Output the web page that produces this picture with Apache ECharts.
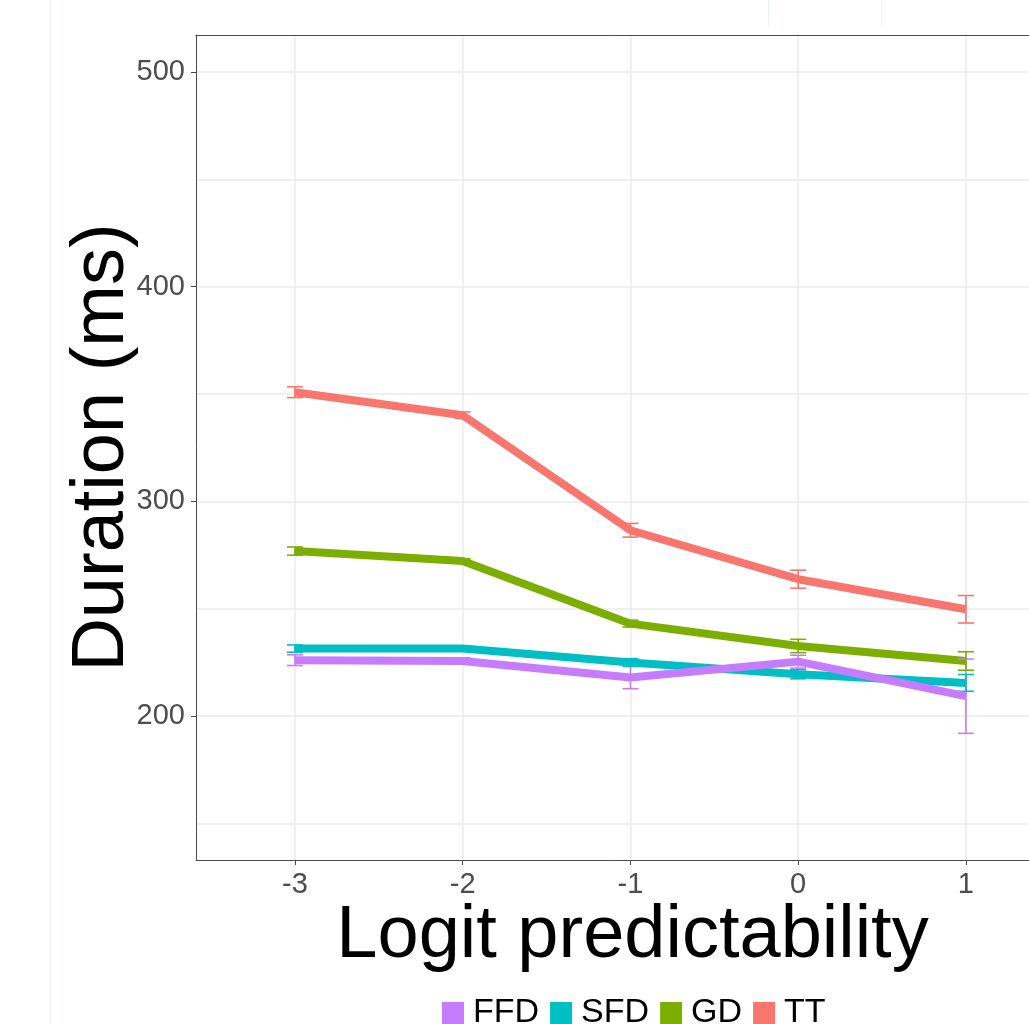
<!DOCTYPE html>
<html><head><meta charset="utf-8">
<script src="https://cdn.jsdelivr.net/npm/echarts@6/dist/echarts.min.js"></script>
<style>html,body{margin:0;padding:0;background:#fff}#c{width:1029px;height:1024px}</style>
</head><body><div id="c"></div>
<script>
const xValues = [-3, -2, -1, 0, 1];
const seriesNames = ['FFD', 'SFD', 'GD', 'TT'];
const FFD = [226.0, 225.6, 217.9, 225.3, 209.2];
const FFD_err = [2.5, 1.5, 5.2, 3.0, 17.3];
const SFD = [231.4, 231.4, 224.9, 219.4, 215.4];
const SFD_err = [1.7, 1.2, 1.8, 2.1, 3.9];
const GD = [276.8, 272.2, 243.0, 232.6, 225.6];
const GD_err = [1.9, 1.0, 1.6, 3.1, 4.3];
const TT = [350.8, 340.1, 286.5, 263.7, 249.7];
const TT_err = [2.5, 1.5, 3.2, 4.2, 6.4];
const yTickLabels = [200, 300, 400, 500];
const yGridValues = [150, 200, 250, 300, 350, 400, 450, 500];
const xTickLabels = [-3, -2, -1, 0, 1];

const colors = { FFD: '#C77CFF', SFD: '#00BFC4', GD: '#7CAE00', TT: '#F8766D' };
const values = { FFD, SFD, GD, TT };
const errs = { FFD: FFD_err, SFD: SFD_err, GD: GD_err, TT: TT_err };
const FONT = '"Liberation Sans", Arial, Helvetica, sans-serif';

const chart = echarts.init(document.getElementById('c'), null, { renderer: 'canvas' });

const series = [];
seriesNames.forEach((name, i) => {
  series.push({
    name, type: 'line',
    data: xValues.map((x, j) => [x, values[name][j]]),
    showSymbol: false, symbol: 'none',
    lineStyle: { color: colors[name], width: 8 },
    itemStyle: { color: colors[name] },
    z: name === 'FFD' ? 5 : 3,
    animation: false
  });
  series.push({
    name, type: 'custom',
    data: xValues.map((x, j) => [x, values[name][j] - errs[name][j], values[name][j] + errs[name][j]]),
    renderItem: function (params, api) {
      const lo = api.coord([api.value(0), api.value(1)]);
      const hi = api.coord([api.value(0), api.value(2)]);
      const hw = 8;
      const st = { stroke: colors[name], lineWidth: 1.6, fill: null };
      return {
        type: 'group',
        children: [
          { type: 'line', shape: { x1: lo[0], y1: lo[1], x2: hi[0], y2: hi[1] }, style: st },
          { type: 'line', shape: { x1: lo[0] - hw, y1: lo[1], x2: lo[0] + hw, y2: lo[1] }, style: st },
          { type: 'line', shape: { x1: hi[0] - hw, y1: hi[1], x2: hi[0] + hw, y2: hi[1] }, style: st }
        ]
      };
    },
    itemStyle: { color: colors[name] },
    z: 4,
    animation: false
  });
});

chart.setOption({
  backgroundColor: '#ffffff',
  animation: false,
  grid: { left: 196, top: 35, right: 0, bottom: 164, show: false },
  xAxis: [{
    type: 'value', min: -3.59, max: 1.376, position: 'bottom',
    name: 'Logit predictability', nameLocation: 'middle', nameGap: 40, nameMoveOverlap: false,
    nameTextStyle: { fontFamily: FONT, fontSize: 74, color: '#000', padding: [0, 0, 0, 40] },
    axisLine: { show: true, onZero: false, lineStyle: { color: '#4a4a4a', width: 1 } },
    axisTick: { show: true, length: 5, lineStyle: { color: '#4a4a4a' }, customValues: xTickLabels },
    axisLabel: { show: true, customValues: xTickLabels, fontFamily: FONT, fontSize: 29, color: '#4d4d4d', margin: 10 },
    splitLine: { show: true, lineStyle: { color: '#ebebeb', width: 1.5 } }
  }, {
    type: 'value', min: -3.59, max: 1.376, position: 'top',
    axisLine: { show: true, onZero: false, lineStyle: { color: '#4a4a4a', width: 1 } },
    axisTick: { show: false }, axisLabel: { show: false }, splitLine: { show: false }
  }],
  yAxis: [{
    type: 'value', min: 132.9, max: 517.2,
    name: 'Duration (ms)', nameLocation: 'middle', nameGap: 56, nameMoveOverlap: false,
    nameTextStyle: { fontFamily: FONT, fontSize: 74, color: '#000' },
    axisLine: { show: true, onZero: false, lineStyle: { color: '#4a4a4a', width: 1 } },
    axisTick: { show: true, length: 5, lineStyle: { color: '#4a4a4a' }, customValues: yTickLabels },
    axisLabel: { show: true, customValues: yTickLabels, fontFamily: FONT, fontSize: 29, color: '#4d4d4d', margin: 11 },
    splitLine: { show: false }
  }, {
    type: 'value', min: 132.9, max: 517.2, position: 'left',
    axisLine: { show: false, onZero: false }, axisLabel: { show: false },
    axisTick: { show: false, customValues: yGridValues },
    splitLine: { show: true, lineStyle: { color: '#ebebeb', width: 1.5 } }
  }],
  legend: {
    data: seriesNames, left: 437, top: 991, icon: 'rect',
    itemWidth: 22, itemHeight: 22, itemGap: 11,
    textStyle: { fontFamily: FONT, fontSize: 34, color: '#000', padding: [0, 0, 0, 4] }
  },
  graphic: [
    { type: 'line', shape: { x1: 50.5, y1: 0, x2: 50.5, y2: 1024 }, style: { stroke: '#eef3fa', lineWidth: 1 }, silent: true },
    { type: 'line', shape: { x1: 768.5, y1: 0, x2: 768.5, y2: 25 }, style: { stroke: '#e8f1fa', lineWidth: 1 }, silent: true },
    { type: 'line', shape: { x1: 881.5, y1: 0, x2: 881.5, y2: 25 }, style: { stroke: '#e8f1fa', lineWidth: 1 }, silent: true }
  ],
  series
});
</script></body></html>
